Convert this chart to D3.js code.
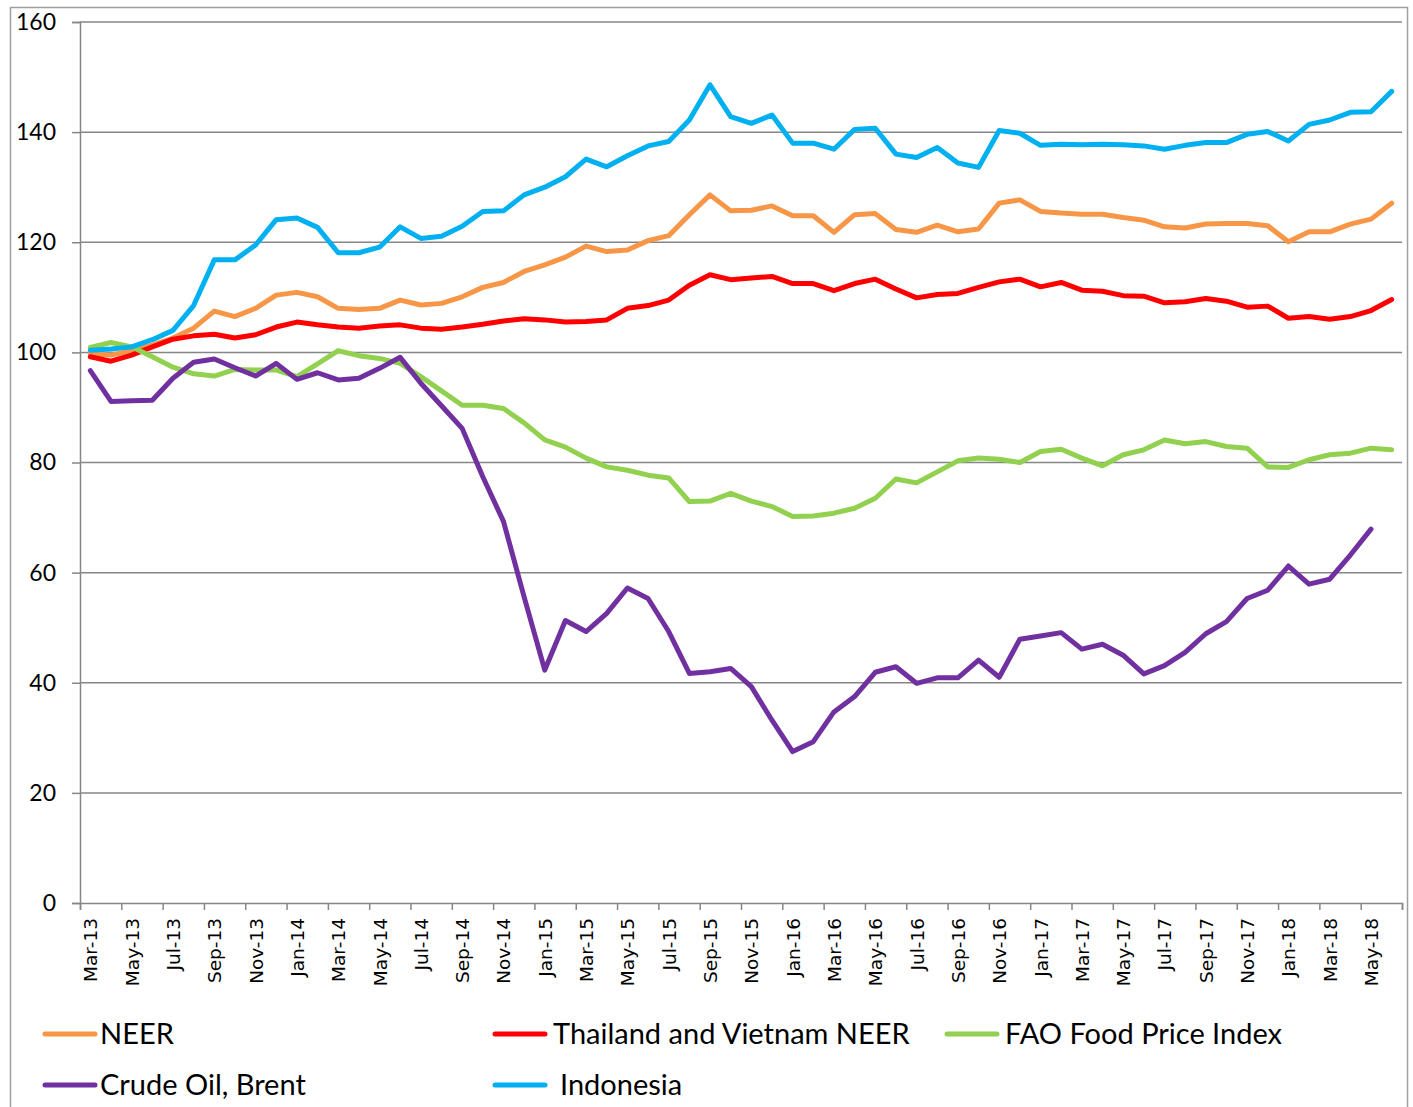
<!DOCTYPE html>
<html>
<head>
<meta charset="utf-8">
<script src="https://cdn.jsdelivr.net/npm/d3@7"></script>
<style>
  html, body { margin: 0; padding: 0; background: #fff; }
  svg { display: block; }
</style>
</head>
<body>
<svg id="chart" width="1413" height="1107"></svg>
<script>
const months = [
  "Mar-13","Apr-13","May-13","Jun-13","Jul-13","Aug-13","Sep-13","Oct-13","Nov-13","Dec-13",
  "Jan-14","Feb-14","Mar-14","Apr-14","May-14","Jun-14","Jul-14","Aug-14","Sep-14","Oct-14","Nov-14","Dec-14",
  "Jan-15","Feb-15","Mar-15","Apr-15","May-15","Jun-15","Jul-15","Aug-15","Sep-15","Oct-15","Nov-15","Dec-15",
  "Jan-16","Feb-16","Mar-16","Apr-16","May-16","Jun-16","Jul-16","Aug-16","Sep-16","Oct-16","Nov-16","Dec-16",
  "Jan-17","Feb-17","Mar-17","Apr-17","May-17","Jun-17","Jul-17","Aug-17","Sep-17","Oct-17","Nov-17","Dec-17",
  "Jan-18","Feb-18","Mar-18","Apr-18","May-18","Jun-18"
];
const seriesNames = ["NEER", "Thailand and Vietnam NEER", "FAO Food Price Index", "Crude Oil, Brent", "Indonesia"];
const neer = [
  99.8,99.5,100.3,101.3,102.6,104.4,107.5,106.5,108.0,110.4,
  110.9,110.1,108.0,107.8,108.0,109.5,108.6,108.9,110.1,111.8,
  112.7,114.7,115.9,117.3,119.3,118.3,118.6,120.3,121.2,125.0,
  128.6,125.7,125.8,126.6,124.8,124.8,121.8,125.0,125.2,122.3,
  121.8,123.1,121.9,122.4,127.1,127.7,125.6,125.3,125.1,125.1,
  124.5,124.0,122.8,122.6,123.3,123.4,123.4,123.0,120.1,121.9,
  121.9,123.3,124.2,127.1
];
const thaiVietnam = [
  99.2,98.4,99.5,101.0,102.4,103.0,103.3,102.6,103.2,104.6,
  105.5,105.0,104.6,104.4,104.8,105.0,104.4,104.2,104.6,105.1,
  105.7,106.1,105.9,105.5,105.6,105.9,108.0,108.5,109.5,112.2,
  114.1,113.2,113.5,113.8,112.5,112.5,111.2,112.5,113.3,111.5,
  109.9,110.5,110.7,111.8,112.8,113.3,111.9,112.7,111.3,111.1,
  110.3,110.2,109.0,109.2,109.8,109.3,108.2,108.4,106.2,106.5,
  106.0,106.5,107.6,109.6
];
const fao = [
  100.9,101.8,101.0,99.2,97.3,96.1,95.7,96.9,96.8,96.8,
  95.6,97.9,100.3,99.4,98.9,98.0,95.6,93.0,90.4,90.4,
  89.8,87.2,84.1,82.8,80.8,79.2,78.6,77.7,77.2,72.9,
  73.0,74.4,73.0,72.0,70.2,70.3,70.8,71.7,73.5,77.0,
  76.3,78.3,80.3,80.8,80.6,80.0,82.0,82.4,80.8,79.4,
  81.4,82.3,84.1,83.4,83.8,82.9,82.6,79.2,79.1,80.5,
  81.4,81.7,82.6,82.3
];
const crudeOil = [
  96.7,91.1,91.2,91.3,95.3,98.2,98.8,97.2,95.7,98.0,
  95.1,96.3,95.0,95.3,97.1,99.1,94.4,90.3,86.2,77.4,
  69.3,55.6,42.3,51.3,49.3,52.6,57.2,55.3,49.3,41.7,
  42.0,42.6,39.3,33.2,27.5,29.3,34.7,37.5,41.9,42.9,
  39.9,40.9,40.9,44.1,41.0,47.9,48.5,49.1,46.1,47.0,
  45.0,41.6,43.1,45.5,48.9,51.1,55.3,56.8,61.2,57.9,
  58.8,63.2,67.9,null
];
const indonesia = [
  100.4,100.6,101.0,102.3,104.0,108.5,116.8,116.8,119.5,124.1,
  124.4,122.7,118.1,118.1,119.1,122.8,120.7,121.1,122.9,125.6,
  125.7,128.6,130.0,131.9,135.1,133.7,135.7,137.5,138.3,142.2,
  148.6,142.8,141.6,143.1,138.0,138.0,136.9,140.5,140.7,136.0,
  135.4,137.2,134.4,133.6,140.3,139.8,137.6,137.8,137.7,137.8,
  137.7,137.5,136.9,137.6,138.1,138.1,139.6,140.1,138.4,141.4,
  142.2,143.6,143.7,147.4
];
const yTicks = [0, 20, 40, 60, 80, 100, 120, 140, 160];
const xTickLabels = months.filter((m, i) => i % 2 === 0);
const colors = ["#F79646", "#FF0000", "#92D050", "#7030A0", "#00B0F0"];

const seriesData = [neer, thaiVietnam, fao, crudeOil, indonesia];

const svg = d3.select("#chart");
const L = 80, R = 1402, T = 22, B = 903;

// outer border
svg.append("rect").attr("x", 10.5).attr("y", 7.5).attr("width", 1397).attr("height", 1105)
  .attr("fill", "none").attr("stroke", "#a0a0a0").attr("stroke-width", 1.5);

const x = d3.scaleBand().domain(months).range([L, R]).paddingInner(0).paddingOuter(0);
const xIdx = d3.scaleLinear().domain([0, months.length]).range([L, R]);
const y = d3.scaleLinear().domain([0, 160]).range([B, T]);

const axisColor = "#868686";

// gridlines
svg.append("g").selectAll("line").data(yTicks.filter(t => t > 0)).join("line")
  .attr("x1", L).attr("x2", R)
  .attr("y1", d => y(d)).attr("y2", d => y(d))
  .attr("stroke", axisColor).attr("stroke-width", 1.5);

// y axis
const yAxis = svg.append("g").attr("transform", `translate(${L},0)`)
  .call(d3.axisLeft(y).tickValues(yTicks).tickSize(8).tickPadding(16).tickFormat(d3.format("d")));
yAxis.select(".domain").attr("stroke", axisColor).attr("stroke-width", 1.5);
yAxis.selectAll(".tick line").attr("stroke", axisColor).attr("stroke-width", 1.5);
yAxis.selectAll(".tick text").attr("fill", "#000").style("font-family", "Lato, 'Noto Sans', sans-serif")
  .style("font-size", "23px");

// x axis tick marks at category boundaries
const xTickAxis = svg.append("g").attr("transform", `translate(0,${B})`)
  .call(d3.axisBottom(xIdx).tickValues(d3.range(0, months.length + 1, 2)).tickSize(7).tickFormat(""));
xTickAxis.select(".domain").attr("stroke", axisColor).attr("stroke-width", 1.5);
xTickAxis.selectAll(".tick line").attr("stroke", axisColor).attr("stroke-width", 1.5);

// x axis labels
const xLab = svg.append("g").attr("transform", `translate(0,${B})`)
  .call(d3.axisBottom(x).tickValues(xTickLabels).tickSize(0).tickPadding(0));
xLab.select(".domain").remove();
xLab.selectAll(".tick text")
  .attr("fill", "#000")
  .style("font-family", "'DejaVu Sans', Verdana, sans-serif")
  .style("font-size", "18.5px")
  .attr("text-anchor", "end")
  .attr("dy", null)
  .attr("transform", "translate(7,15) rotate(-90)")
  .attr("x", 0).attr("y", 0);

// lines
const line = d3.line()
  .defined(d => d.v !== null)
  .x(d => x(d.m) + x.bandwidth() / 2)
  .y(d => y(d.v));

svg.append("g").selectAll("path").data(seriesData).join("path")
  .attr("d", s => line(s.map((v, i) => ({ m: months[i], v }))))
  .attr("fill", "none")
  .attr("stroke", (s, i) => colors[i])
  .attr("stroke-width", 5)
  .attr("stroke-linejoin", "round")
  .attr("stroke-linecap", "round");

// legend
const legendPos = [
  { lx: 45, ly: 1034, tx: 100 },
  { lx: 495, ly: 1034, tx: 553 },
  { lx: 947, ly: 1034, tx: 1005 },
  { lx: 45, ly: 1085, tx: 100 },
  { lx: 495, ly: 1085, tx: 560 }
];
const lg = svg.append("g");
seriesNames.forEach((name, i) => {
  const p = legendPos[i];
  lg.append("line").attr("x1", p.lx).attr("x2", p.lx + 50).attr("y1", p.ly).attr("y2", p.ly)
    .attr("stroke", colors[i]).attr("stroke-width", 5).attr("stroke-linecap", "round");
  lg.append("text").attr("x", p.tx).attr("y", p.ly).attr("dy", "0.35em")
    .style("font-family", "Lato, 'Noto Sans', sans-serif").style("font-size", "29px")
    .attr("fill", "#000").text(name);
});
</script>
</body>
</html>
